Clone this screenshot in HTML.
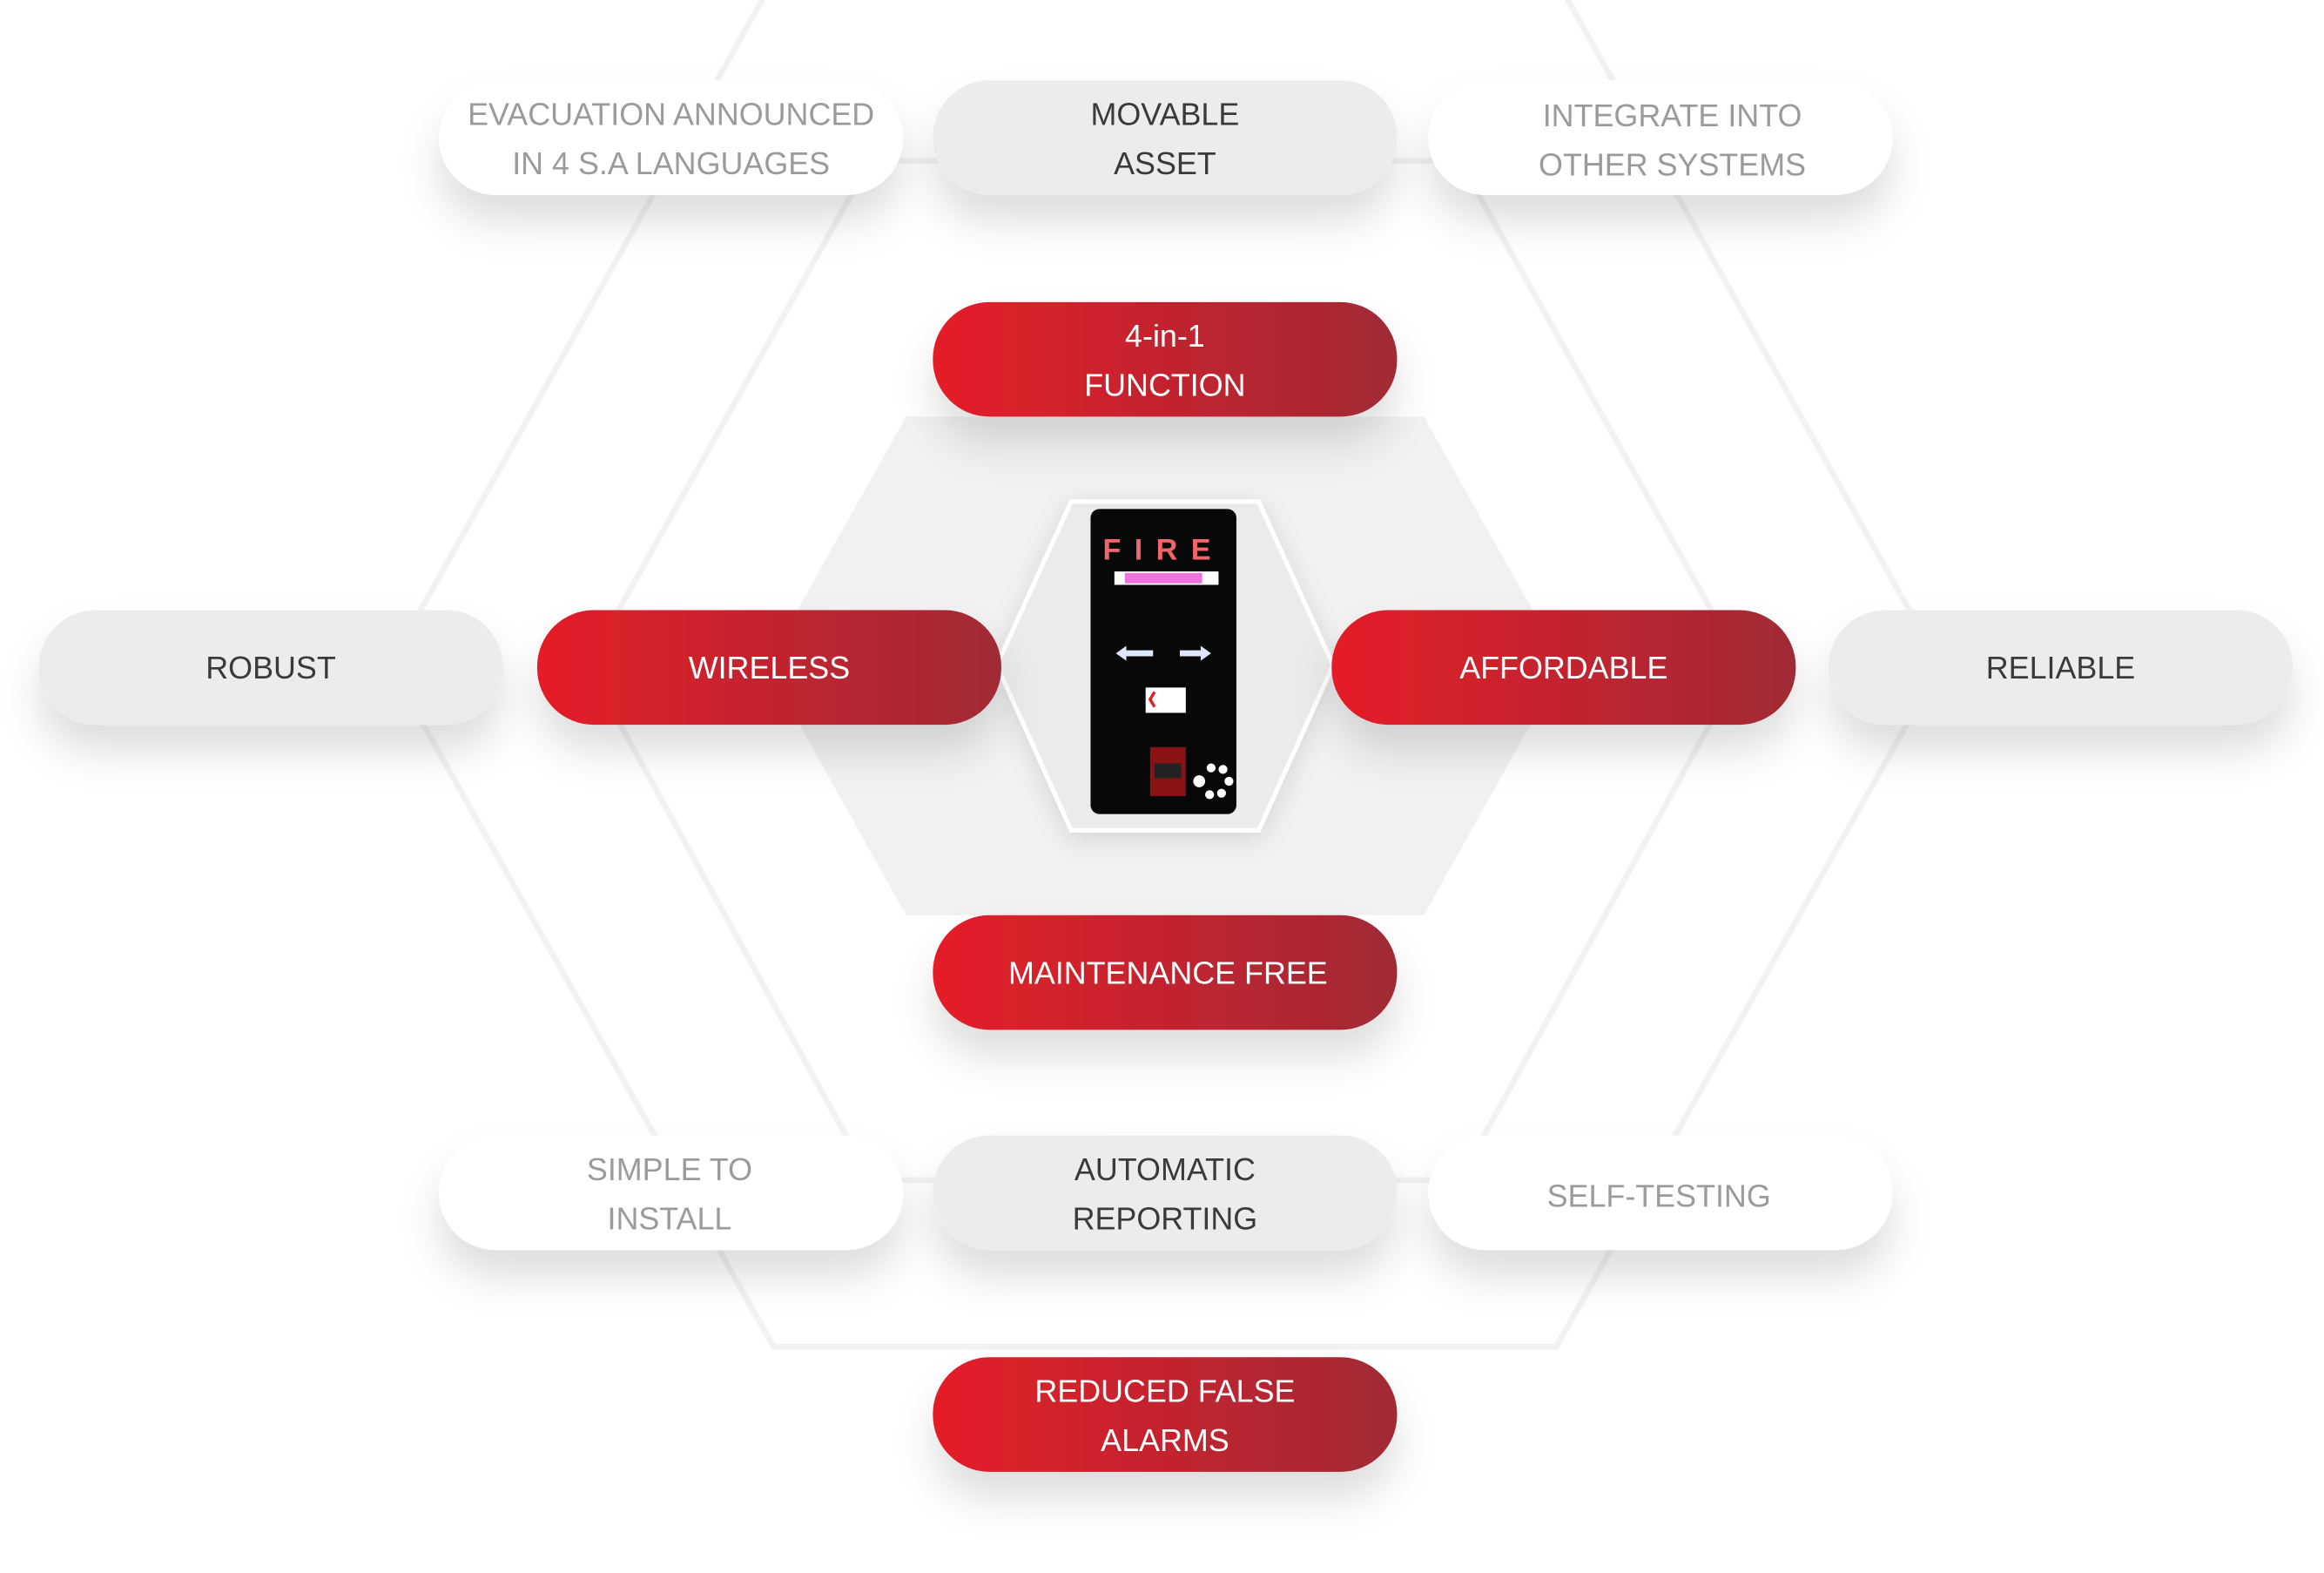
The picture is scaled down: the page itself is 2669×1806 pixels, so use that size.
<!DOCTYPE html>
<html><head><meta charset="utf-8"><style>
html,body{margin:0;padding:0;background:#fff;}
svg{display:block;}
text{font-family:"Liberation Sans",sans-serif;font-size:21px;text-anchor:middle;}
</style></head><body>
<svg width="2669" height="1806" viewBox="0 0 1562 1057" xmlns="http://www.w3.org/2000/svg">
<defs>
<linearGradient id="rg" x1="0" x2="1" y1="0" y2="0"><stop offset="0" stop-color="#e51e28"/><stop offset="1" stop-color="#a02a35"/></linearGradient>
<filter id="sh" x="-20%" y="-30%" width="140%" height="220%"><feDropShadow dx="0" dy="18" stdDeviation="13" flood-color="#000" flood-opacity="0.13"/></filter>
<filter id="sh2" x="-30%" y="-30%" width="160%" height="160%"><feDropShadow dx="0" dy="4" stdDeviation="8" flood-color="#000" flood-opacity="0.12"/></filter>
</defs>
<rect width="1562" height="1057" fill="#fff"/>
<!-- background hexagons -->
<g fill="none" stroke="#f2f2f2" stroke-width="4">
<polygon points="262,447 520,-14 1046,-14 1304,447 1046,905 520,905"/>
<polygon points="395,447 585,108 981,108 1171,447 981,793 585,793"/>
</g>
<polygon points="515,447 609,280 957,280 1051,447 957,615 609,615" fill="#f1f1f1"/>
<polygon points="670,447 720,337 846,337 896,447 846,558 720,558" fill="#ebebeb" stroke="#fff" stroke-width="3" filter="url(#sh2)"/>
<!-- device -->
<g>
<rect x="733" y="342" width="98" height="205" rx="6" fill="#080808"/>
<text x="782" y="376" style="font-size:20px;font-weight:bold;letter-spacing:9px" fill="#f0646a">FIRE</text>
<rect x="749" y="384" width="70" height="9" fill="#fff"/>
<rect x="756" y="385" width="52" height="7" fill="#ee72e0"/>
<polygon points="750,439 757,434 757,437 775,437 775,441 757,441 757,444" fill="#dfe6ff"/>
<polygon points="814,439 807,434 807,437 793,437 793,441 807,441 807,444" fill="#dfe6ff"/>
<rect x="770" y="462" width="27" height="17" fill="#fff"/>
<path d="M776 465 l-3 5 l3 5" stroke="#d22" stroke-width="2" fill="none"/>
<rect x="773" y="502" width="24" height="33" fill="#8a1214"/>
<rect x="776" y="513" width="18" height="10" fill="#222"/>
<circle cx="814" cy="516" r="3" fill="#fff"/><circle cx="822" cy="517" r="3" fill="#fff"/>
<circle cx="826" cy="525" r="3" fill="#fff"/><circle cx="821" cy="533" r="3" fill="#fff"/>
<circle cx="813" cy="534" r="3" fill="#fff"/><circle cx="806" cy="525" r="4" fill="#fff"/>
</g>
<!-- pills -->
<g filter="url(#sh)">
<rect x="295" y="54" width="312" height="77" rx="38" fill="#fff"/>
<rect x="627" y="54" width="312" height="77" rx="38" fill="#ececec"/>
<rect x="960" y="54" width="312" height="77" rx="38" fill="#fff"/>
<rect x="627" y="203" width="312" height="77" rx="38" fill="url(#rg)"/>
<rect x="26" y="410" width="312" height="77" rx="38" fill="#ececec"/>
<rect x="361" y="410" width="312" height="77" rx="38" fill="url(#rg)"/>
<rect x="895" y="410" width="312" height="77" rx="38" fill="url(#rg)"/>
<rect x="1229" y="410" width="312" height="77" rx="38" fill="#ececec"/>
<rect x="627" y="615" width="312" height="77" rx="38" fill="url(#rg)"/>
<rect x="295" y="763" width="312" height="77" rx="38" fill="#fff"/>
<rect x="627" y="763" width="312" height="77" rx="38" fill="#ececec"/>
<rect x="960" y="763" width="312" height="77" rx="38" fill="#fff"/>
<rect x="627" y="912" width="312" height="77" rx="38" fill="url(#rg)"/>
</g>
<g fill="#9b9b9b">
<text x="451" y="84">EVACUATION ANNOUNCED</text>
<text x="451" y="117">IN 4 S.A LANGUAGES</text>
<text x="1124" y="85">INTEGRATE INTO</text>
<text x="1124" y="118">OTHER SYSTEMS</text>
<text x="450" y="793">SIMPLE TO</text>
<text x="450" y="826">INSTALL</text>
<text x="1115" y="811">SELF-TESTING</text>
</g>
<g fill="#3a3a3c">
<text x="783" y="84">MOVABLE</text>
<text x="783" y="117">ASSET</text>
<text x="182" y="456">ROBUST</text>
<text x="1385" y="456">RELIABLE</text>
<text x="783" y="793">AUTOMATIC</text>
<text x="783" y="826">REPORTING</text>
</g>
<g fill="#fff">
<text x="783" y="233">4-in-1</text>
<text x="783" y="266">FUNCTION</text>
<text x="517" y="456">WIRELESS</text>
<text x="1051" y="456">AFFORDABLE</text>
<text x="785" y="661">MAINTENANCE FREE</text>
<text x="783" y="942">REDUCED FALSE</text>
<text x="783" y="975">ALARMS</text>
</g>
</svg>
</body></html>
